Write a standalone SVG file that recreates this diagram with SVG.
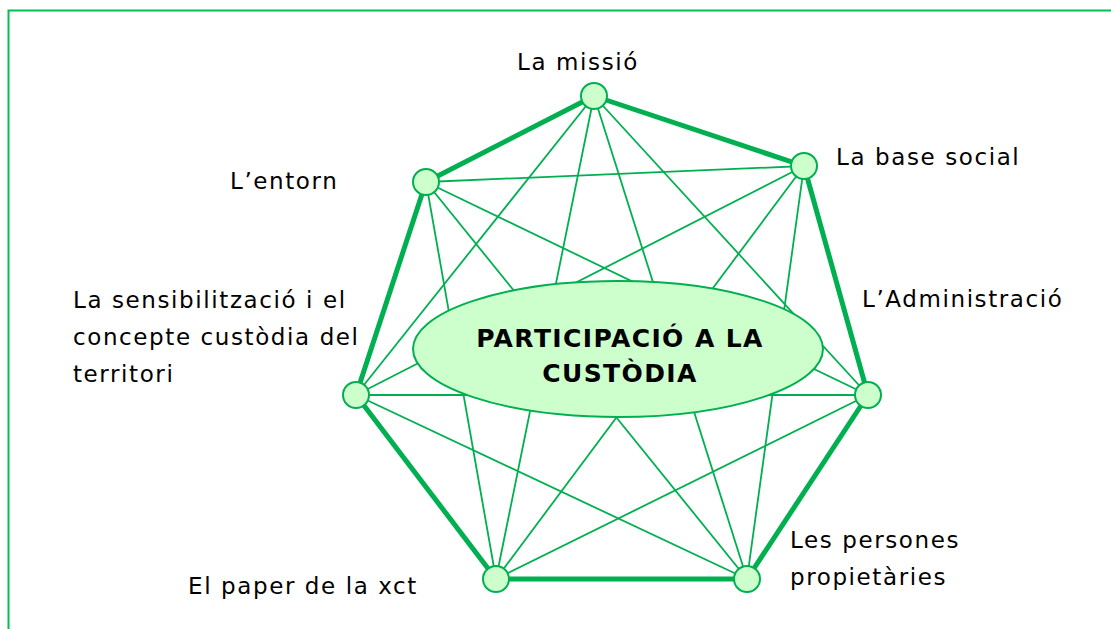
<svg xmlns="http://www.w3.org/2000/svg" width="1111" height="629" viewBox="0 0 1111 629">
<style>
.thin{stroke:#00b050;stroke-width:1.8;fill:none}
.thick{stroke:#00b050;stroke-width:5;fill:none}
.node{fill:#ccffcc;stroke:#00b050;stroke-width:2}
.lbl{font-family:"DejaVu Sans",Verdana,sans-serif;font-size:23px;fill:#000;letter-spacing:1.6px}
.ttl{font-family:"DejaVu Sans",Verdana,sans-serif;font-size:25px;font-weight:bold;fill:#000;letter-spacing:1.4px}
</style>
<rect x="8.5" y="10.5" width="1120" height="640" fill="#fff" stroke="#00c050" stroke-width="2"/>
<g id="connectors">
<line class="thin" x1="594" y1="96" x2="426" y2="182"/>
<line class="thin" x1="594" y1="96" x2="356" y2="395"/>
<line class="thin" x1="594" y1="96" x2="496" y2="579"/>
<line class="thin" x1="594" y1="96" x2="747" y2="579"/>
<line class="thin" x1="594" y1="96" x2="868" y2="395"/>
<line class="thin" x1="804" y1="166" x2="426" y2="182"/>
<line class="thin" x1="804" y1="166" x2="356" y2="395"/>
<line class="thin" x1="804" y1="166" x2="496" y2="579"/>
<line class="thin" x1="804" y1="166" x2="747" y2="579"/>
<line class="thin" x1="426" y1="182" x2="496" y2="579"/>
<line class="thin" x1="426" y1="182" x2="747" y2="579"/>
<line class="thin" x1="426" y1="182" x2="868" y2="395"/>
<line class="thin" x1="356" y1="395" x2="868" y2="395"/>
<line class="thin" x1="356" y1="395" x2="747" y2="579"/>
<line class="thin" x1="868" y1="395" x2="496" y2="579"/>
<line class="thick" x1="594" y1="96" x2="804" y2="166"/>
<line class="thick" x1="804" y1="166" x2="868" y2="395"/>
<line class="thick" x1="868" y1="395" x2="747" y2="579"/>
<line class="thick" x1="747" y1="579" x2="496" y2="579"/>
<line class="thick" x1="496" y1="579" x2="356" y2="395"/>
<line class="thick" x1="356" y1="395" x2="426" y2="182"/>
<line class="thick" x1="426" y1="182" x2="594" y2="96"/>
</g>
<g id="center">
<ellipse class="node" cx="618" cy="349" rx="205" ry="68"/>
<text class="ttl" x="620" y="347" text-anchor="middle">PARTICIPACIÓ A LA</text>
<text class="ttl" x="620" y="382" text-anchor="middle">CUSTÒDIA</text>
</g>
<g id="missio"><circle class="node" cx="594" cy="96" r="13"/><text class="lbl" x="578" y="70" text-anchor="middle">La missió</text></g>
<g id="base"><circle class="node" cx="804" cy="166" r="13"/><text class="lbl" x="836" y="165">La base social</text></g>
<g id="entorn"><circle class="node" cx="426" cy="182" r="13"/><text class="lbl" x="230" y="189">L’entorn</text></g>
<g id="admin"><circle class="node" cx="868" cy="395" r="13"/><text class="lbl" x="862" y="307">L’Administració</text></g>
<g id="sensib"><circle class="node" cx="356" cy="395" r="13"/><text class="lbl" x="73" y="308">La sensibilització i el</text><text class="lbl" x="73" y="345">concepte custòdia del</text><text class="lbl" x="73" y="382">territori</text></g>
<g id="persones"><circle class="node" cx="747" cy="579" r="13"/><text class="lbl" x="790" y="548">Les persones</text><text class="lbl" x="790" y="585">propietàries</text></g>
<g id="paper"><circle class="node" cx="496" cy="579" r="13"/><text class="lbl" x="188" y="594">El paper de la xct</text></g>
</svg>
